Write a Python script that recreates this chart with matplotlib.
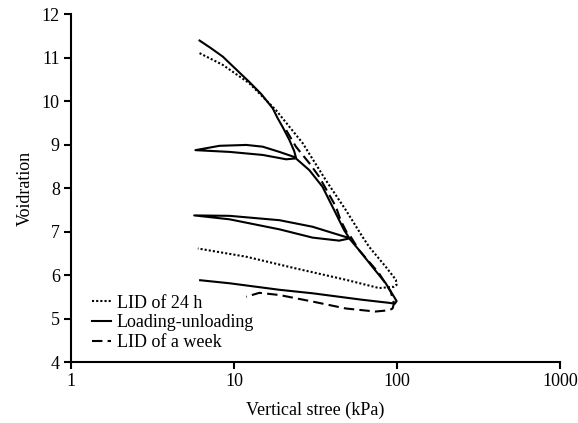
import matplotlib
matplotlib.use("Agg")
import matplotlib.pyplot as plt

plt.rcParams['font.family'] = ['Liberation Serif', 'DejaVu Serif']

# Loading-unloading path
load_x = [6.15, 7.19, 8.54, 9.4, 12.4, 14.7, 17.3, 18.5, 19.9, 21.9, 23.4, 24.0,
          19.0, 15.0, 11.9, 8.15, 5.8,
          9.4, 15.0, 20.9, 24.0,
          29.0, 34.9, 41.2, 47.4, 51.0,
          44.2, 30.3, 19.0, 9.4, 5.7,
          9.4, 19.0, 30.3, 44.2, 51.0,
          58.6, 70.6, 85.3, 95.9, 99.5, 97.0, 89.5,
          61.4, 30.3, 19.0, 9.4, 6.2]
load_y = [11.39, 11.22, 11.02, 10.87, 10.44, 10.16, 9.83, 9.61, 9.40, 9.10, 8.85, 8.70,
          8.83, 8.95, 8.99, 8.97, 8.87,
          8.83, 8.76, 8.66, 8.68,
          8.41, 8.03, 7.49, 7.03, 6.85,
          6.92, 7.11, 7.26, 7.36, 7.37,
          7.28, 7.05, 6.86, 6.79, 6.84,
          6.57, 6.19, 5.81, 5.50, 5.40, 5.34, 5.36,
          5.43, 5.58, 5.66, 5.81, 5.88]

# LID of 24 h
lid24_x = [6.15, 8.54, 12.4, 18.1, 26.4, 36.6, 48.6, 61.4, 67.4, 85.3,
           98.5, 99.4, 95.9, 77.6, 48.6, 24.0, 11.9, 6.0]
lid24_y = [11.10, 10.83, 10.41, 9.79, 9.03, 8.18, 7.49, 6.88, 6.65, 6.19,
           5.89, 5.77, 5.73, 5.70, 5.89, 6.15, 6.42, 6.61]

# LID of a week
lidw_x = [20.9, 24.0, 29.0, 33.3, 42.2, 45.1, 49.5, 52.0, 58.6, 77.6,
          91.5, 95.9, 94.0, 89.5, 73.8, 48.6, 30.3, 19.0, 14.3, 11.9]
lidw_y = [9.33, 8.95, 8.57, 8.26, 7.57, 7.26, 6.96, 6.88, 6.57, 6.04,
          5.62, 5.35, 5.23, 5.19, 5.16, 5.23, 5.39, 5.54, 5.59, 5.50]

fig = plt.figure(figsize=(5.78, 4.23), dpi=100)
ax = fig.add_axes([0.1228, 0.1442, 0.8460, 0.8227])

ax.plot(lid24_x, lid24_y, color='black', lw=1.5, ls=(0, (1, 1)), label='LID of 24 h')
ax.plot(load_x, load_y, color='black', lw=1.5, ls='-', label='Loading-unloading',
        solid_joinstyle='round')
ax.plot(lidw_x, lidw_y, color='black', lw=1.5, ls=(0, (5, 2.5)), label='LID of a week')

ax.set_xscale('log')
ax.set_xlim(1, 1000)
ax.set_ylim(4, 12)
ax.set_xticks([1, 10, 100, 1000])
ax.set_xticklabels(['1', '10', '100', '1000'])
ax.xaxis.set_minor_locator(matplotlib.ticker.NullLocator())
ax.set_yticks(range(4, 13))

for s in ['top', 'right']:
    ax.spines[s].set_visible(False)
for s in ['left', 'bottom']:
    ax.spines[s].set_linewidth(1.5)
ax.tick_params(direction='out', length=5, width=1.5, labelsize=13, pad=3)

ax.set_xlabel('Vertical stree (kPa)', fontsize=13, labelpad=8)
ax.set_ylabel('Voidration', fontsize=13, labelpad=6)

ax.legend(loc='lower left', bbox_to_anchor=(0.02, 0.0), frameon=False,
          fontsize=13, handlelength=1.1, handletextpad=0.3, labelspacing=0.15,
          borderaxespad=0.2)

fig.savefig('out.png', dpi=100)
